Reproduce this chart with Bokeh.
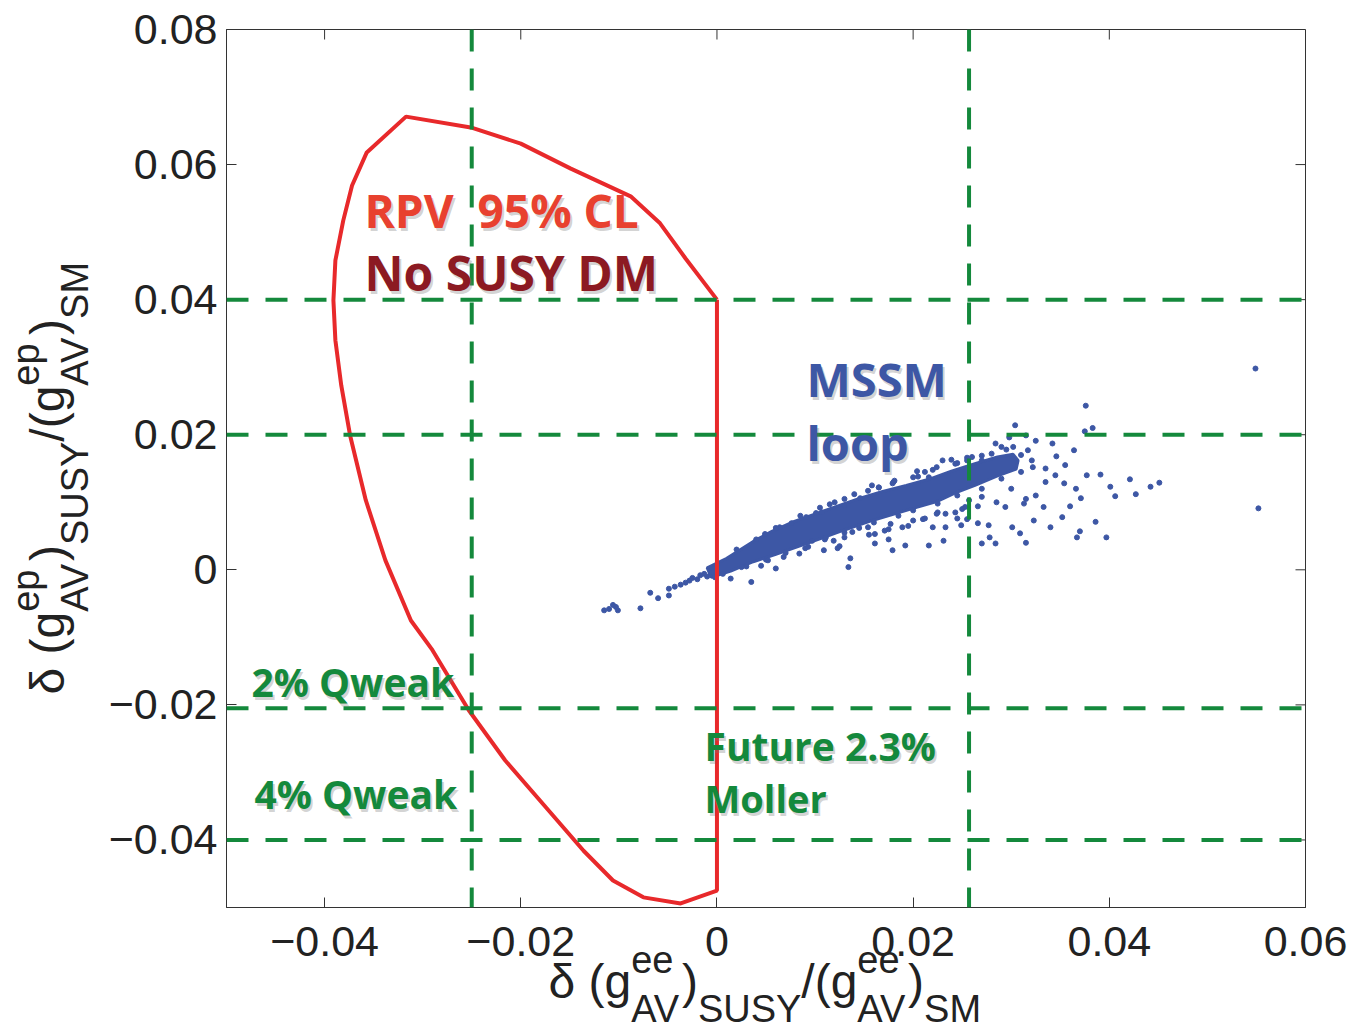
from math import pi
from bokeh.plotting import figure
from bokeh.models import Span, Label, FixedTicker, Range1d, ColumnDataSource
from bokeh.core.properties import value
from bokeh.embed import file_html
from bokeh.resources import INLINE

# ---------------- data ----------------
x_ticks = [-0.04, -0.02, 0, 0.02, 0.04, 0.06]
x_tick_labels = ["−0.04", "−0.02", "0", "0.02", "0.04", "0.06"]
y_ticks = [-0.04, -0.02, 0, 0.02, 0.04, 0.06, 0.08]
y_tick_labels = ["−0.04", "−0.02", "0", "0.02", "0.04", "0.06", "0.08"]
x_lim = (-0.05, 0.06)
y_lim = (-0.05, 0.08)

qweak_levels = [0.04, 0.02, -0.0205, -0.04]
moller_levels = [-0.025, 0.0257]

rpv_x = [0.0, 0.0, -0.0037, -0.0075, -0.0106, -0.0136, -0.0176, -0.0216, -0.0253, -0.0290,
         -0.0312, -0.0338, -0.0358, -0.0374, -0.0383, -0.0389, -0.0391, -0.0389, -0.0381,
         -0.0372, -0.0357, -0.0317, -0.0251, -0.0200, -0.0149, -0.0088, -0.0058, -0.0032, 0.0]
rpv_y = [0.0400, -0.0475, -0.0494, -0.0485, -0.0460, -0.0416, -0.0349, -0.0282, -0.0208, -0.0119,
         -0.0075, 0.0014, 0.0103, 0.0199, 0.0273, 0.0340, 0.0399, 0.0458, 0.0517,
         0.0569, 0.0618, 0.0671, 0.0655, 0.0631, 0.0594, 0.0553, 0.0513, 0.0461, 0.0400]

core_x = [-0.0010, 0.0010, 0.0037, 0.0056, 0.0076, 0.0099, 0.0122, 0.0146, 0.0169, 0.0193, 0.0216,
          0.0239, 0.0263, 0.0286, 0.0302, 0.0307,
          0.0305, 0.0286, 0.0263, 0.0243, 0.0224, 0.0200, 0.0177, 0.0154, 0.0130, 0.0107, 0.0084,
          0.0060, 0.0037, 0.0014, -0.0006]
core_y = [0.0003, 0.0017, 0.0042, 0.0057, 0.0070, 0.0082, 0.0094, 0.0106, 0.0116, 0.0125, 0.0134,
          0.0146, 0.0157, 0.0167, 0.0171, 0.0162,
          0.0149, 0.0139, 0.0125, 0.0114, 0.0101, 0.0091, 0.0081, 0.0071, 0.0059, 0.0047, 0.0035,
          0.0023, 0.0012, -0.0002, -0.0011]

mssm_x = [0.0376, 0.0383, 0.0375, 0.0304, 0.0364, 0.0342, 0.0346, 0.0391, 0.0421, 0.0451, 0.0442,
          0.0427, 0.0406, 0.0401, 0.0377, 0.0354, 0.0366, 0.0371, 0.0360, 0.0386, 0.0397, 0.0367,
          0.0370, 0.0340, 0.0352, 0.0315, 0.0309, 0.0323, 0.0301, 0.0325, 0.0313, 0.0333, 0.0294,
          0.0284, 0.0278, 0.0270, 0.0266, 0.0277, 0.0249, 0.0245, 0.0266, 0.0270, 0.0233, 0.0216,
          0.0231, 0.0192, 0.0179, 0.0161, 0.0134, 0.0136, 0.0123, 0.0109, 0.0097, 0.0060, 0.0035,
          0.0014,
          -0.0068, -0.0060, -0.0049, -0.0049, -0.0043, -0.0037, -0.0028, -0.0020, -0.0017, -0.0078,
          -0.0103, -0.0115, -0.0101, -0.0110, -0.0106, -0.0010, -0.0005, -0.0013, -0.0025, -0.0032,
          0.0549, 0.0552,
          0.0230, 0.0239, 0.0204, 0.0216, 0.0179, 0.0158, 0.0115, 0.0130, 0.0146, 0.0101, 0.0064,
          0.0076, 0.0049, 0.0284, 0.0298, 0.0315, 0.0325, 0.0317, 0.0321, 0.0260, 0.0270,
          0.0020, 0.0040, 0.0060, 0.0085, 0.0105, 0.0120, 0.0140, 0.0165, 0.0180, 0.0205, 0.0220,
          0.0245, 0.0255, 0.0280, 0.0295, 0.0310,
          0.0030, 0.0050, 0.0070, 0.0090, 0.0110, 0.0130, 0.0145, 0.0160, 0.0185, 0.0200, 0.0225,
          0.0245, 0.0270, 0.0290, 0.0310,
          0.0125, 0.0155, 0.0175, 0.0195, 0.0210, 0.0175, 0.0225, 0.0250, 0.0285, 0.0255, 0.0300,
          0.0315, 0.0335, 0.0345, 0.0335, 0.0355, 0.0322,
          -0.0002, 0.0006, 0.0025, 0.0045, 0.0052, 0.0068, 0.0084, 0.0093, 0.0111, 0.0119, 0.0130,
          0.0138, 0.0154, 0.0161, 0.0171, 0.0177, 0.0189, 0.0200, 0.0212, 0.0220, 0.0224, 0.0233,
          0.0243, 0.0253, 0.0257,
          0.0091, 0.0107, 0.0130, 0.0154, 0.0165, 0.0181, 0.0200, 0.0212, 0.0224, 0.0243, 0.0255,
          0.0270, 0.0290, 0.0302]
mssm_y = [0.0243, 0.0210, 0.0205, 0.0214, 0.0177, 0.0187, 0.0168, 0.0141, 0.0134, 0.0129, 0.0123,
          0.0112, 0.0109, 0.0123, 0.0140, 0.0128, 0.0120, 0.0106, 0.0094, 0.0071, 0.0048, 0.0048,
          0.0057, 0.0063, 0.0078, 0.0040, 0.0054, 0.0073, 0.0063, 0.0110, 0.0098, 0.0093, 0.0093,
          0.0039, 0.0048, 0.0039, 0.0069, 0.0066, 0.0066, 0.0076, 0.0094, 0.0108, 0.0063, 0.0036,
          0.0043, 0.0036, 0.0029, 0.0039, 0.0004, 0.0017, 0.0032, 0.0029, 0.0043, 0.0002, -0.0018,
          -0.0013,
          -0.0034, -0.0042, -0.0038, -0.0028, -0.0025, -0.0022, -0.0016, -0.0014, -0.0008, -0.0057,
          -0.0055, -0.0060, -0.0060, -0.0058, -0.0052, -0.0010, -0.0004, -0.0006, -0.0012, -0.0019,
          0.0298, 0.0091,
          0.0162, 0.0163, 0.0146, 0.0137, 0.0128, 0.0125, 0.0097, 0.0095, 0.0106, 0.0084, 0.0063,
          0.0069, 0.0053, 0.0187, 0.0196, 0.0199, 0.0191, 0.0177, 0.0162, 0.0167, 0.0162,
          0.0030, 0.0045, 0.0062, 0.0080, 0.0092, 0.0100, 0.0112, 0.0122, 0.0130, 0.0138, 0.0148,
          0.0158, 0.0166, 0.0172, 0.0178, 0.0170,
          0.0005, 0.0015, 0.0025, 0.0032, 0.0045, 0.0055, 0.0062, 0.0070, 0.0080, 0.0088, 0.0098,
          0.0110, 0.0120, 0.0135, 0.0145,
          0.0035, 0.0052, 0.0060, 0.0065, 0.0075, 0.0045, 0.0085, 0.0090, 0.0100, 0.0075, 0.0120,
          0.0105, 0.0130, 0.0140, 0.0150, 0.0155, 0.0152,
          -0.0011, -0.0006, 0.0004, 0.0006, 0.0014, 0.0019, 0.0024, 0.0034, 0.0048, 0.0043, 0.0048,
          0.0056, 0.0063, 0.0053, 0.0058, 0.0068, 0.0063, 0.0073, 0.0076, 0.0063, 0.0083, 0.0083,
          0.0085, 0.0093, 0.0103,
          0.0078, 0.0085, 0.0105, 0.0117, 0.0122, 0.0132, 0.0137, 0.0145, 0.0152, 0.0157, 0.0162,
          0.0169, 0.0182, 0.0182]

# ---------------- styles / layout ----------------
GREEN = "#14893c"
RED = "#e8292b"
BLUE = "#3d57a5"
AXIS = "#333333"
TICK_FONT = "Liberation Sans"

FL, FT, FW, FH = 226, 29, 1079, 878
W_CANVAS, H_CANVAS = 1352, 1029


def fx(px):
    return x_lim[0] + (px - FL) * (x_lim[1] - x_lim[0]) / FW


def fy(py):
    return y_lim[1] - (py - FT) * (y_lim[1] - y_lim[0]) / FH


p = figure(width=W_CANVAS, height=H_CANVAS, x_range=x_lim, y_range=y_lim,
           output_backend="svg", toolbar_location=None,
           min_border_left=FL, min_border_right=W_CANVAS - FL - FW,
           min_border_top=FT, min_border_bottom=H_CANVAS - FT - FH)
p.background_fill_color = "white"
p.border_fill_color = "white"
p.outline_line_color = AXIS
p.grid.visible = False

for ax, ticks, labels in ((p.xaxis[0], x_ticks, x_tick_labels), (p.yaxis[0], y_ticks, y_tick_labels)):
    ax.ticker = FixedTicker(ticks=ticks)
    ax.major_label_overrides = {t: l for t, l in zip(ticks, labels)}
    ax.major_tick_in = 10
    ax.major_tick_out = 0
    ax.minor_tick_line_color = None
    ax.axis_line_color = AXIS
    ax.major_tick_line_color = AXIS
    ax.major_label_text_font = TICK_FONT
    ax.major_label_text_font_size = "43px"
    ax.major_label_text_color = "#222222"
    ax.axis_label = None
p.xaxis.major_label_standoff = 19
p.yaxis.major_label_standoff = 9

tick_dy = fy(FT) - fy(FT + 10)
tick_dx = fx(FL + 10) - fx(FL)
p.segment(x0=x_ticks, y0=[y_lim[1]] * len(x_ticks), x1=x_ticks, y1=[y_lim[1] - tick_dy] * len(x_ticks),
          line_color=AXIS, line_width=1)
p.segment(x0=[x_lim[1]] * len(y_ticks), y0=y_ticks, x1=[x_lim[1] - tick_dx] * len(y_ticks), y1=y_ticks,
          line_color=AXIS, line_width=1)

p.patch(core_x, core_y, fill_color=BLUE, line_color=BLUE, line_width=3)
p.scatter(mssm_x, mssm_y, size=5, marker="circle", fill_color=BLUE, line_color=BLUE)

p.line(rpv_x, rpv_y, line_color=RED, line_width=4)

for yv in qweak_levels:
    p.add_layout(Span(location=yv, dimension="width", line_color=GREEN, line_width=4,
                      line_dash="22 17"))
for xv in moller_levels:
    p.add_layout(Span(location=xv, dimension="height", line_color=GREEN, line_width=4,
                      line_dash="22 17"))


def note(px, base_py, text, color, size):
    x = fx(px)
    y = fy(base_py - 0.388 * size)
    p.add_layout(Label(x=x, y=y, text=text, text_color="#777777", text_alpha=0.33,
                       text_font="Open Sans", text_font_style="bold", text_font_size=f"{size}px",
                       x_offset=2, y_offset=-3, text_baseline="middle", text_align="left"))
    p.add_layout(Label(x=x, y=y, text=text, text_color=color,
                       text_font="Open Sans", text_font_style="bold", text_font_size=f"{size}px",
                       text_baseline="middle", text_align="left"))


note(364, 227, "RPV\u00a0 95% CL", "#e8412f", 46)
note(364, 291, "No SUSY DM", "#8c1a22", 48)
note(806, 397, "MSSM", BLUE, 47)
note(806, 461, "loop", BLUE, 47)
note(251, 696, "2% Qweak", GREEN, 39)
note(254, 808, "4% Qweak", GREEN, 39)
note(704, 760, "Future 2.3%", GREEN, 39)
note(704, 812, "Moller", GREEN, 38)

# ---------------- axis titles: transparent overlay in page pixels ----------------
ov = figure(width=W_CANVAS, height=H_CANVAS, x_range=Range1d(0, W_CANVAS), y_range=Range1d(H_CANVAS, 0),
            output_backend="svg", toolbar_location=None, x_axis_type=None, y_axis_type=None,
            min_border=0, min_border_left=0, min_border_right=0, min_border_top=0, min_border_bottom=0)
ov.outline_line_color = None
ov.background_fill_color = None
ov.border_fill_color = None
ov.styles = {"position": "absolute", "top": "0px", "left": "0px", "pointer-events": "none"}

W = {'δ': 0.556, ' ': 0.278, '(': 0.333, ')': 0.333, 'g': 0.556, 'e': 0.556, 'p': 0.556,
     'A': 0.667, 'V': 0.667, 'S': 0.667, 'U': 0.722, 'Y': 0.667, 'M': 0.833, '/': 0.278}
MAIN, SCRIPT = 48, 38
T = dict(x=[], y=[], text=[], angle=[], size=[])


def tw(s, size):
    return sum(W[c] for c in s) * size


def axis_title(sup, start, base_main, base_sup, base_sub, vertical):
    pieces = [("main", "δ (g"), ("stack", sup, "AV"), ("main", ")"), ("sub", "SUSY"),
              ("main", "/(g"), ("stack", sup, "AV"), ("main", ")"), ("sub", "SM")]
    pos = start
    for pc in pieces:
        items = []
        if pc[0] == "main":
            items.append((pc[1], MAIN, base_main))
            adv = tw(pc[1], MAIN)
        elif pc[0] == "sub":
            items.append((pc[1], SCRIPT, base_sub))
            adv = tw(pc[1], SCRIPT)
        else:
            items.append((pc[1], SCRIPT, base_sup))
            items.append((pc[2], SCRIPT, base_sub))
            adv = max(tw(pc[1], SCRIPT), tw(pc[2], SCRIPT))
        for text, size, base in items:
            mid = 0.35 * size
            if vertical:
                T["x"].append(base - mid); T["y"].append(pos); T["angle"].append(pi / 2)
            else:
                T["x"].append(pos); T["y"].append(base - mid); T["angle"].append(0.0)
            T["text"].append(text)
            T["size"].append(f"{size}px")
        pos = pos + adv if not vertical else pos - adv


axis_title("ee", 548, 998, 972, 1022, False)
axis_title("ep", 694, 64, 39, 88, True)

ov.text(x="x", y="y", text="text", angle="angle", text_font_size="size", source=ColumnDataSource(T),
        text_font=value(TICK_FONT), text_color="#222222", text_baseline="middle", text_align="left")

open("out.html", "w").write(file_html([p, ov], INLINE))
